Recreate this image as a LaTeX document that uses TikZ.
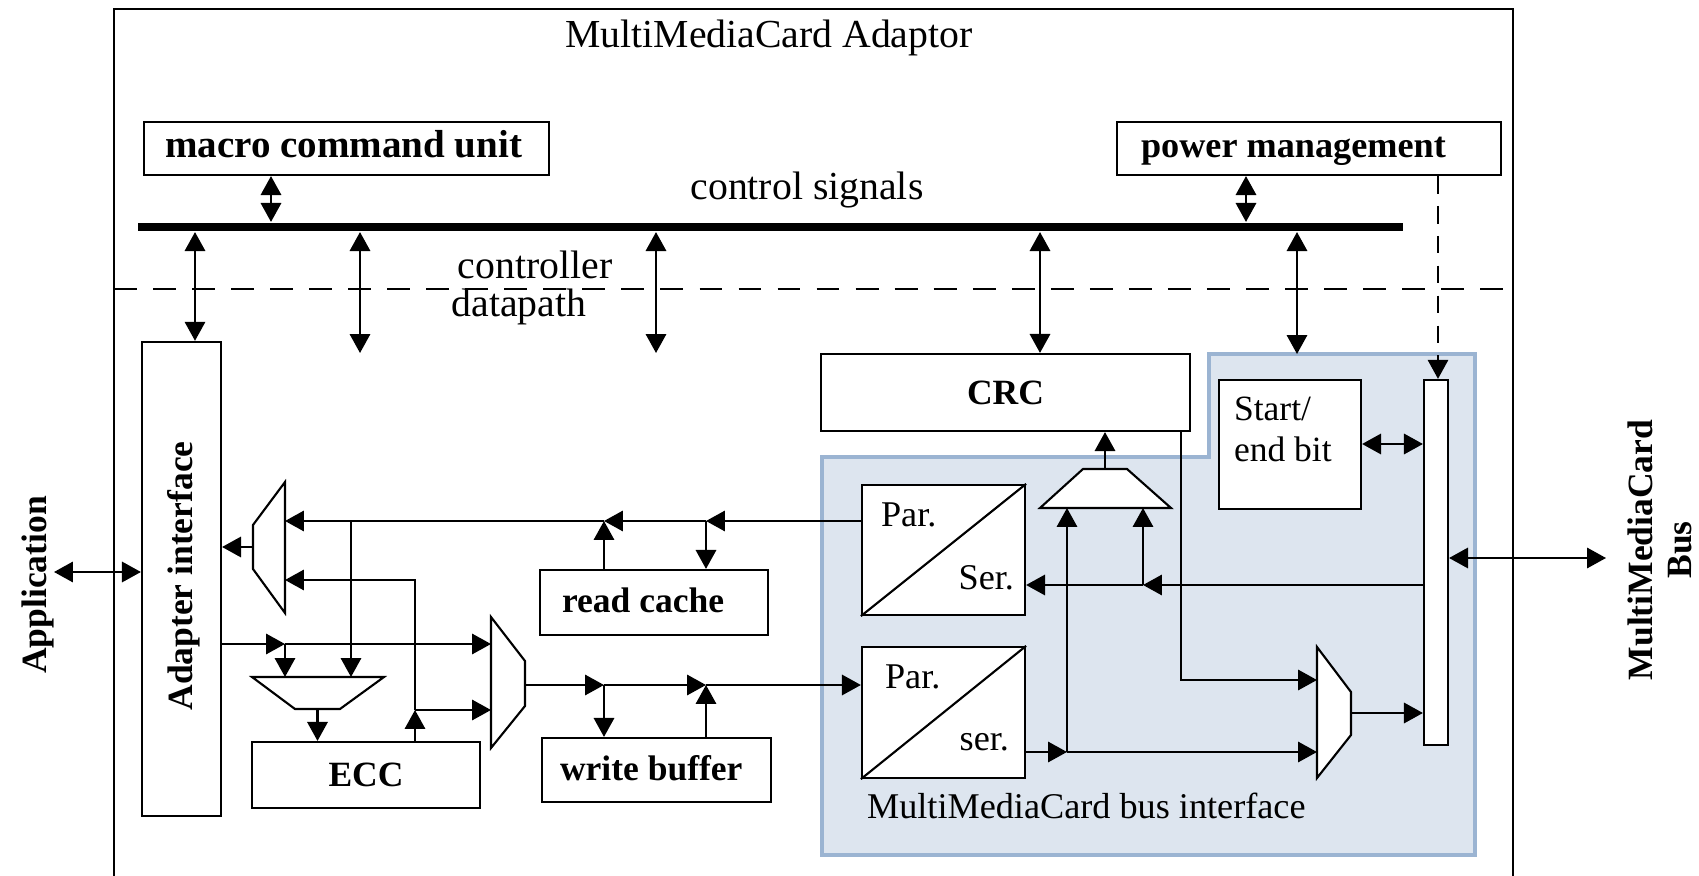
\documentclass[tikz,border=0pt]{standalone}
\usepackage{fontspec}
\setmainfont{Liberation Serif}
\usetikzlibrary{arrows.meta}
\definecolor{bifill}{RGB}{221,229,239}
\definecolor{bidraw}{RGB}{155,180,210}
\begin{document}
\begin{tikzpicture}[x=0.01cm,y=-0.01cm,line width=0.6pt,
  arr/.style={-{Triangle[length=5.4pt,width=5.8pt]}},
  darr/.style={{Triangle[length=5.4pt,width=5.8pt]}-{Triangle[length=5.4pt,width=5.8pt]}},
  blk/.style={draw,rectangle,inner sep=0pt,fill=white},
  bl/.style={inner sep=0pt,font=\fontsize{10.1}{12}\selectfont\bfseries},
  tx/.style={inner sep=0pt,font=\fontsize{10.3}{12}\selectfont},
  bg/.style={inner sep=0pt,font=\fontsize{11.3}{13}\selectfont},
  muxs/.style={draw,fill=white,line join=miter}]
\useasboundingbox (0,0) rectangle (1699,876);
% outer frame
\draw[line width=0.5pt] (114,876) -- (114,9) -- (1513,9) -- (1513,876);
\node[bg,anchor=base] (title) at (769,48) {MultiMediaCard Adaptor};
% bus interface region
\draw[bidraw,fill=bifill,line width=0.9pt] (1209,354) -- (1475,354) -- (1475,855) -- (822,855) -- (822,457) -- (1209,457) -- cycle;
\node[tx,anchor=base west] (bift) at (866,818) {MultiMediaCard bus interface};
% dashed separator
\draw[dash pattern=on 6.5pt off 4.6pt,line width=0.5pt] (114,289) -- (1513,289);
\node[bg,anchor=base] (ctrl) at (535,279) {controller};
\node[bg,anchor=base] (dp) at (519,317) {datapath};
% control bus
\node[fill=black,inner sep=0pt,minimum width=12.65cm,minimum height=0.08cm] (bus) at (770.5,227) {};
\node[bg,anchor=base] (cs) at (807,200) {control signals};
% boxes
\node[blk,minimum width=4.05cm,minimum height=0.53cm] (macro) at (346.5,148.5) {};
\node[inner sep=0pt,anchor=base west,font=\fontsize{11.1}{13}\selectfont\bfseries] (macrot) at (164,158) {macro command unit};
\node[blk,minimum width=3.84cm,minimum height=0.53cm] (power) at (1309,148.5) {};
\node[bl,anchor=base west,font=\fontsize{10.3}{12}\selectfont\bfseries] (powert) at (1140,158) {power management};
\node[blk,minimum width=0.79cm,minimum height=4.74cm] (adapter) at (181.5,579) {};
\node[bl,rotate=90] (adaptert) at (184,576) {Adapter interface};
\node[bl,rotate=90] (apptext) at (38,585) {Application};
\node[bl,rotate=90,align=center,font=\fontsize{10.1}{11.1}\selectfont\bfseries] (mmct) at (1660,550) {MultiMediaCard\\Bus};
\node[blk,minimum width=2.28cm,minimum height=0.65cm] (readc) at (654,602.5) {};
\node[bl,anchor=base west] (readct) at (561,613) {read cache};
\node[blk,minimum width=2.29cm,minimum height=0.64cm] (writeb) at (656.5,770) {};
\node[bl,anchor=base west] (writebt) at (559,780) {write buffer};
\node[blk,minimum width=2.28cm,minimum height=0.66cm,bl] (ecc) at (366,775) {ECC};
\node[blk,minimum width=3.69cm,minimum height=0.77cm,bl] (crc) at (1005.5,392.5) {CRC};
\node[blk,minimum width=1.42cm,minimum height=1.29cm] (se) at (1290,444.5) {};
\node[tx,anchor=base west,font=\fontsize{10.1}{12}\selectfont] (set1) at (1233,420) {Start/};
\node[tx,anchor=base west,font=\fontsize{10.1}{12}\selectfont] (set2) at (1233,462) {end bit};
\node[blk,minimum width=0.24cm,minimum height=3.65cm] (tall) at (1436,562.5) {};
\node[blk,minimum width=1.63cm,minimum height=1.30cm] (ps1) at (943.5,550) {};
\draw (ps1.south west) -- (ps1.north east);
\node[tx,anchor=base west] (ps1a) at (880,527) {Par.};
\node[tx,anchor=base east] (ps1b) at (1015,590) {Ser.};
\node[blk,minimum width=1.63cm,minimum height=1.31cm] (ps2) at (943.5,712.5) {};
\draw (ps2.south west) -- (ps2.north east);
\node[tx,anchor=base west] (ps2a) at (884,688) {Par.};
\node[tx,anchor=base east] (ps2b) at (1010,750) {ser.};
% multiplexers
\draw[muxs] (285,482) -- (285,613) -- (253,569) -- (253,525) -- cycle;
\draw[muxs] (252,677) -- (384,677) -- (340,709) -- (295,709) -- cycle;
\draw[muxs] (491,617) -- (525,661) -- (525,706) -- (491,748) -- cycle;
\draw[muxs] (1083,469) -- (1127,469) -- (1171,508) -- (1040,508) -- cycle;
\draw[muxs] (1317,647) -- (1351,692) -- (1351,735) -- (1317,778) -- cycle;
\coordinate (l1o) at (253,547); \coordinate (l1a) at (285,521); \coordinate (l1b) at (285,580);
\coordinate (eia) at (285,677); \coordinate (eib) at (351,677); \coordinate (eo) at (317.5,709);
\coordinate (wia) at (491,644); \coordinate (wib) at (491,710); \coordinate (wo) at (525,685);
\coordinate (cia) at (1067,508); \coordinate (cib) at (1143,508); \coordinate (co) at (1105,469);
\coordinate (ria) at (1317,680); \coordinate (rib) at (1317,752); \coordinate (ro) at (1351,713);
% junctions
\coordinate (j1) at (706,521); \coordinate (j2) at (604,521); \coordinate (j3) at (351,521);
\coordinate (j4) at (415,710); \coordinate (j5) at (285,644); \coordinate (j6) at (604,685);
\coordinate (j7) at (706,685); \coordinate (j8) at (1143,585); \coordinate (j9) at (1067,752);
\coordinate (f1) at (360,353); \coordinate (f2) at (656,353); \coordinate (biftop) at (1297,354);
\coordinate (appl) at (54,572); \coordinate (mmcb) at (1606,558); \coordinate (sej) at (1300,444);
\coordinate (crcl) at (1181,680);
% control connections
\draw[darr] (271,0 |- macro.south) -- (271,0 |- bus.north);
\draw[darr] (1246,0 |- power.south) -- (1246,0 |- bus.north);
\draw[darr] (195,0 |- bus.south) -- (195,0 |- adapter.north);
\draw[darr] (f1 |- bus.south) -- (f1);
\draw[darr] (f2 |- bus.south) -- (f2);
\draw[darr] (1040,0 |- bus.south) -- (1040,0 |- crc.north);
\draw[darr] (biftop |- bus.south) -- (biftop);
\draw[arr,dash pattern=on 5pt off 3.5pt,line width=0.5pt] (1438,0 |- power.south) -- (1438,0 |- tall.north);
\draw[darr] (appl) -- (adapter.west |- appl);
\draw[darr] (tall.east |- mmcb) -- (mmcb);
% read path
\draw[arr] (ps1.west |- j1) -- (j1);
\draw[arr] (j1) -- (j2);
\draw[arr] (j2) -- (l1a);
\draw[arr] (j1) -- (j1 |- readc.north);
\draw[arr] (j2 |- readc.north) -- (j2);
\draw[arr] (j3) -- (eib);
\draw[arr] (l1o) -- (adapter.east |- l1o);
\draw[arr] (j4 |- ecc.north) -- (j4);
\draw[arr] (j4) -- (j4 |- l1b) -- (l1b);
\draw[arr] (j4) -- (wib);
% write path
\draw[arr] (adapter.east |- j5) -- (j5);
\draw[arr] (j5) -- (wia);
\draw[arr] (j5) -- (eia);
\draw[arr] (eo) -- (eo |- ecc.north);
\draw[arr] (wo) -- (j6);
\draw[arr] (j6) -- (j7);
\draw[arr] (j7) -- (ps2.west |- j7);
\draw[arr] (j6) -- (j6 |- writeb.north);
\draw[arr] (j7 |- writeb.north) -- (j7);
% bus interface
\draw[arr] (tall.west |- j8) -- (j8);
\draw[arr] (j8) -- (ps1.east |- j8);
\draw[arr] (j8) -- (cib);
\draw[arr] (ps2.east |- j9) -- (j9);
\draw[arr] (j9) -- (rib);
\draw[arr] (j9) -- (cia);
\draw[arr] (co) -- (co |- crc.south);
\draw[arr] (crcl |- crc.south) -- (crcl) -- (ria);
\draw[arr] (ro) -- (tall.west |- ro);
\draw[darr] (se.east |- sej) -- (tall.west |- sej);
\end{tikzpicture}
\end{document}
